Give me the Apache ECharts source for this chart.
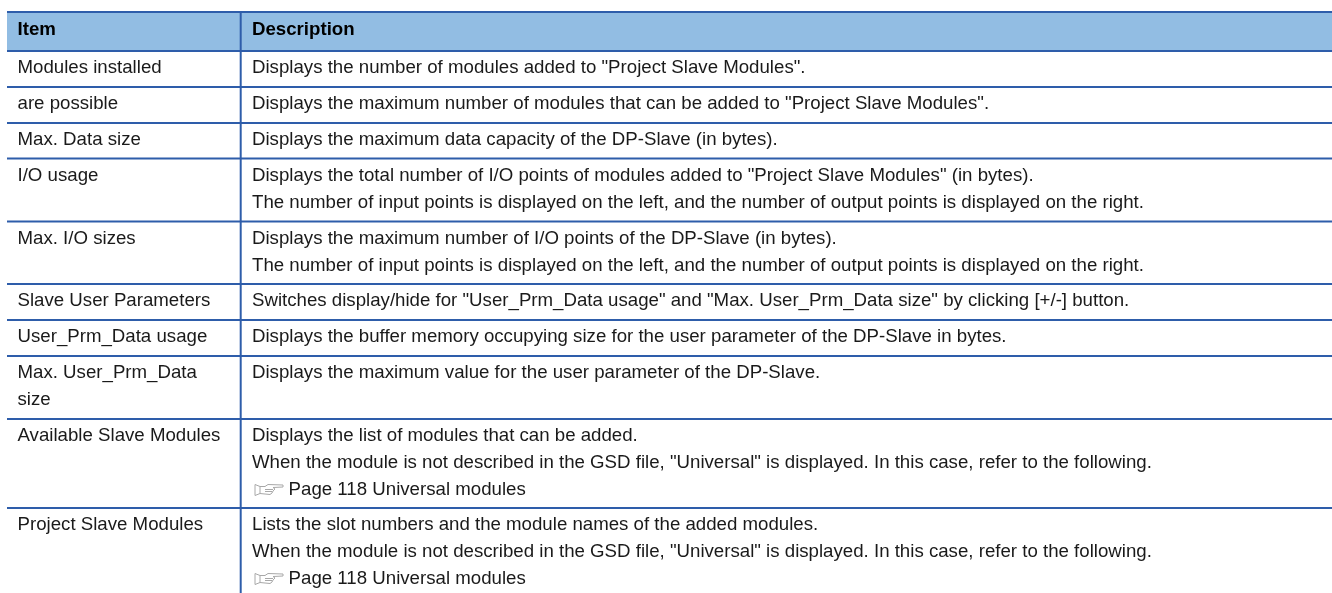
<!DOCTYPE html>
<html><head><meta charset="utf-8">
<style>html,body{margin:0;padding:0;background:#fff}#c{width:1332px;height:593px}</style>
<script src="https://cdn.jsdelivr.net/npm/echarts@6/dist/echarts.min.js"></script>
</head><body><div id="c"></div>
<script>
const headers = ["Item", "Description"];
const items = [
  ["Modules installed"],
  ["are possible"],
  ["Max. Data size"],
  ["I/O usage"],
  ["Max. I/O sizes"],
  ["Slave User Parameters"],
  ["User_Prm_Data usage"],
  ["Max. User_Prm_Data", "size"],
  ["Available Slave Modules"],
  ["Project Slave Modules"]
];
const descriptions = [
  ["Displays the number of modules added to \"Project Slave Modules\"."],
  ["Displays the maximum number of modules that can be added to \"Project Slave Modules\"."],
  ["Displays the maximum data capacity of the DP-Slave (in bytes)."],
  ["Displays the total number of I/O points of modules added to \"Project Slave Modules\" (in bytes).",
   "The number of input points is displayed on the left, and the number of output points is displayed on the right."],
  ["Displays the maximum number of I/O points of the DP-Slave (in bytes).",
   "The number of input points is displayed on the left, and the number of output points is displayed on the right."],
  ["Switches display/hide for \"User_Prm_Data usage\" and \"Max. User_Prm_Data size\" by clicking [+/-] button."],
  ["Displays the buffer memory occupying size for the user parameter of the DP-Slave in bytes."],
  ["Displays the maximum value for the user parameter of the DP-Slave."],
  ["Displays the list of modules that can be added.",
   "When the module is not described in the GSD file, \"Universal\" is displayed. In this case, refer to the following.",
   "☞Page 118 Universal modules"],
  ["Lists the slot numbers and the module names of the added modules.",
   "When the module is not described in the GSD file, \"Universal\" is displayed. In this case, refer to the following.",
   "☞Page 118 Universal modules"]
];
const rowEdges = [51, 87, 123, 158.5, 221.5, 284, 320, 356, 419, 508, 597];

const FONT = '"Liberation Sans", Arial, sans-serif';
const FS = 18.67, LH = 27, TOP = 17;
const LINE = '#2e5daa', HEAD = '#92bde3', INK = '#1a1a1a';
const X0 = 7, XD = 240.7, X1 = 1332, YT = 12;

function txt(x, y, s, weight, fs, color, family) {
  return {type:'text', style:{x, y, text:s, fill:color||INK, font:(weight||'normal')+' '+(fs||FS)+'px '+(family||FONT),
    textAlign:'left', textVerticalAlign:'middle'}};
}
function hline(api, y){
  const a = api.coord([X0,y]), b = api.coord([X1,y]);
  return {type:'line', shape:{x1:a[0],y1:a[1],x2:b[0],y2:b[1]}, style:{stroke:LINE,lineWidth:2}};
}
function hand(x, y){
  return {type:'path', shape:{pathData:
    'M0 0 L5 2 L5 9 L0 11 Z M5 2 L10 2 L13 0 L28 0.5 L28 2.5 L18 3 L20 4.5 L18 6.5 L17 8.5 L15 10 L5 9 M10 5 L18 5 M10 7 L17 7',
    x:x,y:y,width:28,height:11, layout:'cover'}, style:{stroke:'#a8a8a8',lineWidth:1,fill:'#fff'}};
}
function renderRow(params, api){
  const i = api.value(0), top = rowEdges[i], bottom = rowEdges[i+1];
  const kids = [];
  kids.push(hline(api, bottom));
  const vtop = api.coord([XD, top]), vbot = api.coord([XD, bottom]);
  kids.push({type:'line', shape:{x1:vtop[0],y1:vtop[1],x2:vbot[0],y2:vbot[1]}, style:{stroke:LINE,lineWidth:2}});
  items[i].forEach((s,k)=>{
    const p = api.coord([17.5, top+TOP+k*LH]);
    kids.push(txt(p[0],p[1],s));
  });
  descriptions[i].forEach((s,k)=>{
    const p = api.coord([252, top+TOP+k*LH]);
    if (s[0]==='☞') {
      const ic = api.coord([255, top+TOP+k*LH-5.5]);
      kids.push(hand(ic[0],ic[1]));
      const q = api.coord([288.6, top+TOP+k*LH]);
      kids.push(txt(q[0],q[1],s.slice(1)));
    } else kids.push(txt(p[0],p[1],s));
  });
  return {type:'group', children:kids};
}
function renderHead(params, api){
  const a = api.coord([X0,YT]), b = api.coord([X1,rowEdges[0]]);
  const kids = [{type:'rect', shape:{x:a[0],y:a[1],width:b[0]-a[0],height:b[1]-a[1]}, style:{fill:HEAD}},
    hline(api,YT), hline(api,rowEdges[0])];
  const v0 = api.coord([XD,YT]), v1 = api.coord([XD,rowEdges[0]]);
  kids.push({type:'line', shape:{x1:v0[0],y1:v0[1],x2:v1[0],y2:v1[1]}, style:{stroke:LINE,lineWidth:2}});
  const c = 30;
  const p0 = api.coord([17.5,c]), p1 = api.coord([252,c]);
  kids.push(txt(p0[0],p0[1],headers[0],'bold',FS,'#000'));
  kids.push(txt(p1[0],p1[1],headers[1],'bold',FS,'#000'));
  return {type:'group', children:kids};
}
const chart = echarts.init(document.getElementById('c'), null, {renderer:'canvas'});
chart.setOption({
  animation:false, backgroundColor:'#fff',
  grid:{left:0,right:0,top:0,bottom:0},
  xAxis:{type:'value',min:0,max:1332,show:false},
  yAxis:{type:'value',min:0,max:593,inverse:true,show:false},
  tooltip:{show:false},
  series:[
    {type:'custom',name:'header',coordinateSystem:'cartesian2d',silent:true,clip:true,data:[[0]],encode:{x:0,y:0},renderItem:renderHead},
    {type:'custom',name:'rows',coordinateSystem:'cartesian2d',silent:true,clip:true,data:items.map((_,i)=>[i]),encode:{x:0,y:0},renderItem:renderRow}
  ]
});
</script></body></html>
